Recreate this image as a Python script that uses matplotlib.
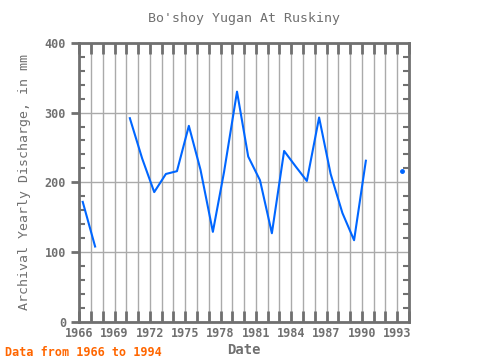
import numpy as np
import matplotlib
matplotlib.use("Agg")
import matplotlib.pyplot as plt
from matplotlib.ticker import MultipleLocator, FixedLocator

# yearly discharge, mm (gaps are NaN)
years = [1966.3, 1967.35, 1968.35, 1969.35, 1970.3, 1971.35, 1972.37, 1973.36, 1974.3,
         1975.31, 1976.3, 1977.35, 1978.3, 1979.4, 1980.35, 1981.35, 1982.36, 1983.4,
         1984.37, 1985.33, 1986.37, 1987.35, 1988.35, 1989.34, 1990.34, 1991.35,
         1992.35, 1993.39]
discharge = [172, 108, np.nan, np.nan, 292, 234, 186, 212, 216,
             281, 218, 129, 215, 330, 237, 203, 127, 245,
             223, 202, 293, 212, 156, 117, 231, np.nan,
             np.nan, 216]
year_ticks = list(range(1966, 1994, 3))

gray = '#707070'
plt.rcParams['font.family'] = ['DejaVu Sans Mono']

fig = plt.figure(figsize=(4.8, 3.6), dpi=100)
ax = fig.add_axes([0.165, 0.106, 0.687, 0.775])

ax.plot(years, discharge, color='#0066ff', linewidth=1.5, zorder=3)
ax.plot(years[-1], discharge[-1], 'o', color='#0066ff', markersize=2.5, zorder=3)

ax.set_xlim(1966, 1994)
ax.set_ylim(0, 400)
ax.xaxis.set_major_locator(FixedLocator(year_ticks))
ax.xaxis.set_minor_locator(MultipleLocator(1))
ax.yaxis.set_major_locator(MultipleLocator(100))
ax.yaxis.set_minor_locator(MultipleLocator(20))

ax.grid(True, which='both', axis='x', color='#aaaaaa', linewidth=1)
ax.grid(True, which='major', axis='y', color='#aaaaaa', linewidth=1)
ax.set_axisbelow(True)

for s in ax.spines.values():
    s.set_color(gray)
    s.set_linewidth(2)

ax.tick_params(axis='x', which='both', direction='in', top=True, length=8,
               width=2, color=gray, labelcolor=gray, labelsize=8.5, pad=4)
ax.tick_params(axis='y', which='major', direction='out', right=False, length=6,
               width=2, color=gray, labelcolor=gray, labelsize=8.5)
ax.tick_params(axis='y', which='minor', direction='in', right=True, length=4,
               width=1.5, color=gray)
for lab in ax.get_xticklabels() + ax.get_yticklabels():
    lab.set_fontweight('bold')

ax.set_title("Bo'shoy Yugan At Ruskiny", color=gray, fontsize=9.5, pad=15)
ax.set_xlabel("Date", color=gray, fontsize=10, fontweight='bold', labelpad=2)
ax.set_ylabel("Archival Yearly Discharge, in mm", color=gray, fontsize=9.5, labelpad=10)

fig.text(0.01, 0.01, "Data from 1966 to 1994", color='#ff6600', fontsize=8.5,
         fontweight='bold')

fig.savefig("out.png", dpi=100)
